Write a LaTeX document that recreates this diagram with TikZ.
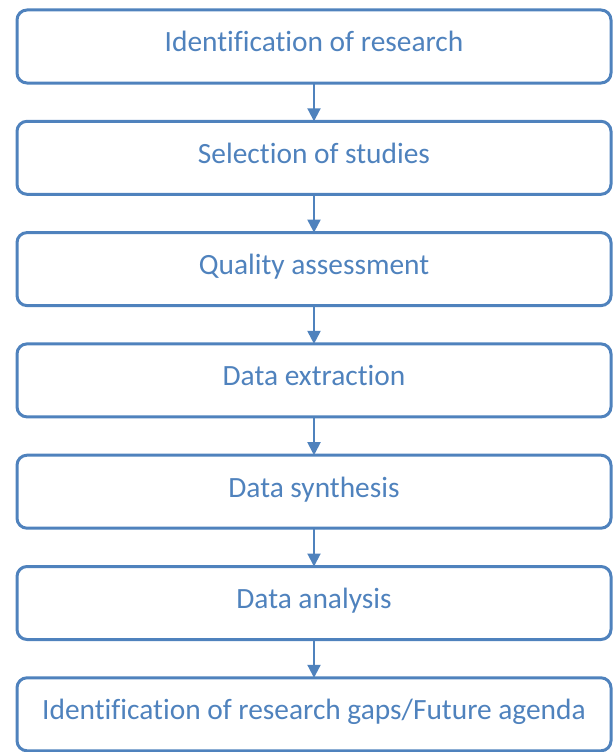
\documentclass[tikz,border=0pt]{standalone}
\usepackage{fontspec}
\setmainfont[Ligatures=NoCommon]{Carlito}
\usetikzlibrary{%
	positioning,%
	arrows.meta%
}
\definecolor{officeblue}{rgb}{0.31, 0.51, 0.74}

\begin{document}
\begin{tikzpicture}[x=1pt,y=1pt,
	stage/.style={draw=officeblue,line width=3pt,rounded corners=10pt,
		minimum width=594pt,minimum height=73pt,inner sep=0pt,outer sep=0pt,
		text height=20pt,text depth=9pt,
		text=officeblue,font=\fontsize{29.4}{33}\selectfont},
	flow/.style={officeblue,line width=2pt,
		-{Triangle[width=13pt,length=13pt]}},
	node distance=38.3pt
	]
	\useasboundingbox (0,0) rectangle (614,-752);
	% Stages of the review, top to bottom
	\node[stage] (ident) at (314,-46.5) {Identification of research};
	\node[stage,below=of ident] (select) {Selection of studies};
	\node[stage,below=of select] (quality) {Quality assessment};
	\node[stage,below=of quality] (extract) {Data extraction};
	\node[stage,below=of extract] (synth) {Data synthesis};
	\node[stage,below=of synth] (analys) {Data analysis};
	\node[stage,below=of analys] (gaps) {Identification of research gaps/Future agenda};

	% Arrows between stages
	\foreach \a/\b in {ident/select,select/quality,quality/extract,
		extract/synth,synth/analys,analys/gaps}
		\draw[flow] (\a) -- (\b);
\end{tikzpicture}
\end{document}
